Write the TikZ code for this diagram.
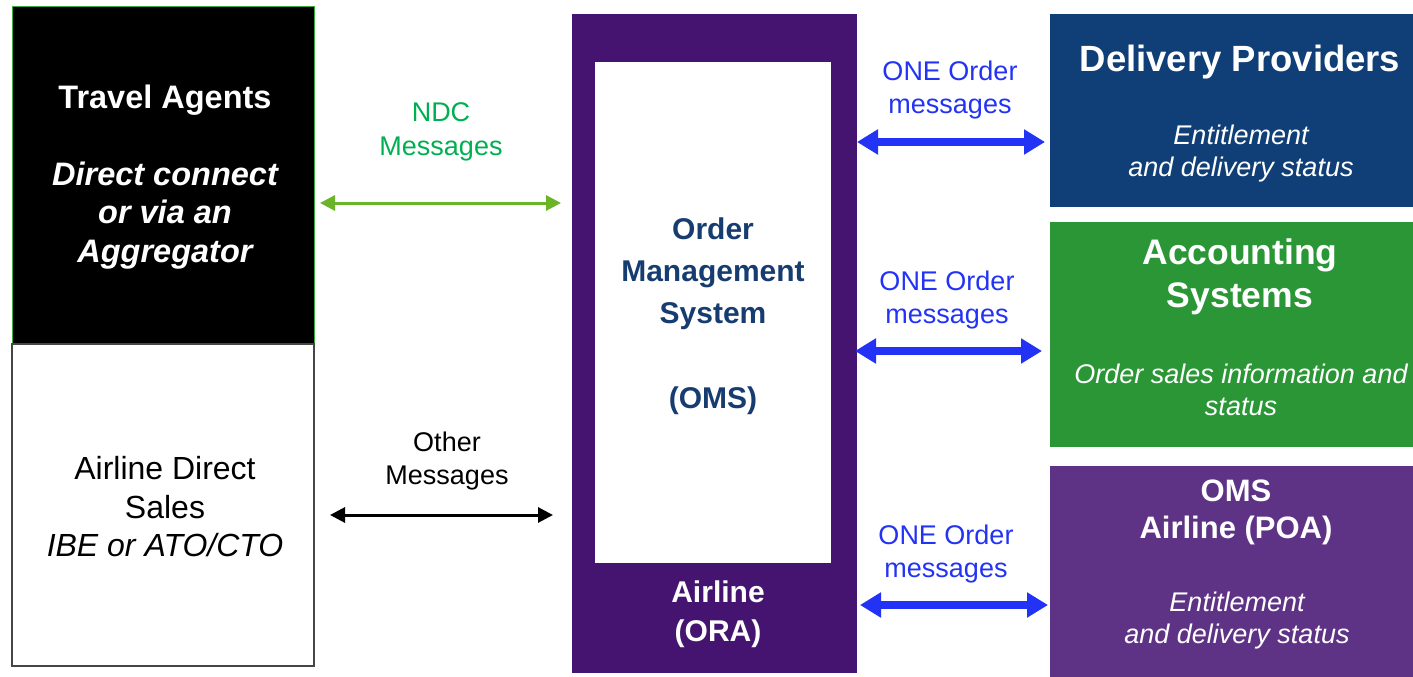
\documentclass[tikz,border=0pt]{standalone}
\usepackage{fontspec}
\setmainfont{Liberation Sans}
\usetikzlibrary{arrows.meta}
\definecolor{tagreen}{RGB}{60,170,60}
\definecolor{ndctext}{RGB}{0,176,80}
\definecolor{ndcarrowc}{RGB}{106,180,40}
\definecolor{oneblue}{RGB}{35,51,245}
\definecolor{omspurple}{RGB}{68,20,112}
\definecolor{omstext}{RGB}{23,61,112}
\definecolor{dpblue}{RGB}{15,63,118}
\definecolor{accgreen}{RGB}{42,150,54}
\definecolor{poapurple}{RGB}{94,51,133}
\definecolor{adsborder}{RGB}{70,70,70}
\begin{document}
\begin{tikzpicture}[x=1pt,y=-1pt,
  box/.style={inner sep=0pt,outer sep=0pt,anchor=north west},
  txt/.style={inner sep=0pt,outer sep=0pt,align=center,anchor=center},
  onearrow/.style={draw=oneblue,line width=8pt,{Triangle[width=24pt,length=21pt]}-{Triangle[width=24pt,length=21pt]}},
  ndcarrow/.style={draw=ndcarrowc,line width=3pt,{Triangle[width=15pt,length=15pt]}-{Triangle[width=15pt,length=15pt]}},
  othrarrow/.style={draw=black,line width=3pt,{Triangle[width=15pt,length=15pt]}-{Triangle[width=15pt,length=15pt]}},
  reg/.style={font=\fontsize{27}{33.5}\selectfont}
]
\useasboundingbox (0,0) rectangle (1413,677);
\fill[white] (0,0) rectangle (1413,677);

% left boxes
\node[box,fill=black,draw=tagreen,line width=1pt,minimum width=302pt,minimum height=337pt] (ta) at (12,7) {};
\node[box,fill=white,draw=adsborder,line width=1.2pt,minimum width=302pt,minimum height=322pt] (ads) at (12,344) {};

% OMS
\node[box,fill=omspurple,minimum width=285pt,minimum height=659pt] (oms) at (572,14) {};
\node[box,fill=white,minimum width=236pt,minimum height=501pt] (omsin) at (595,62) {};

% right boxes
\node[box,fill=dpblue,minimum width=363pt,minimum height=193pt] (dp) at (1050,14) {};
\node[box,fill=accgreen,minimum width=363pt,minimum height=225pt] (acc) at (1050,222) {};
\node[box,fill=poapurple,minimum width=363pt,minimum height=211pt] (poa) at (1050,466) {};

% texts left
\node[txt,text=white,font=\fontsize{32.5}{38.5}\selectfont\bfseries] (talbl) at (165,177)
  {Travel Agents\\[38.5pt]{\itshape Direct connect}\\{\itshape or via an}\\{\itshape Aggregator}};
\node[txt,text=black,font=\fontsize{32}{38.5}\selectfont] (adslbl) at (165,507)
  {Airline Direct\\Sales\\{\itshape IBE or ATO/CTO}};

% message labels
\node[txt,reg,text=ndctext] (ndclbl) at (441,132) {NDC\\Messages};
\node[txt,reg,text=black] (othlbl) at (447,461) {Other\\Messages};
\node[txt,reg,text=oneblue] (one1) at (950,90) {ONE Order\\messages};
\node[txt,reg,text=oneblue] (one2) at (947,300) {ONE Order\\messages};
\node[txt,reg,text=oneblue] (one3) at (946,554) {ONE Order\\messages};

% OMS texts
\node[txt,text=omstext,font=\fontsize{30}{42.3}\selectfont\bfseries] (omslbl) at (713,316)
  {Order\\Management\\System\\[42.3pt](OMS)};
\node[txt,text=white,font=\fontsize{30}{39}\selectfont\bfseries] (oralbl) at (718,614)
  {Airline\\(ORA)};

% right texts
\node[txt,text=white,font=\fontsize{36.5}{43}\selectfont\bfseries] (dptitle) at (1240,62) {Delivery Providers};
\node[txt,text=white,font=\fontsize{27}{32}\selectfont\itshape] (dpsub) at (1241,154) {Entitlement\\and delivery status};
\node[txt,text=white,font=\fontsize{35.5}{43}\selectfont\bfseries] (acctitle) at (1240,277) {Accounting\\Systems};
\node[txt,text=white,font=\fontsize{27}{32}\selectfont\itshape] (accsub) at (1241,390) {Order sales information and\\status};
\node[txt,text=white,font=\fontsize{31}{37}\selectfont\bfseries] (poatitle) at (1236,512) {OMS\\Airline (POA)};
\node[txt,text=white,font=\fontsize{27}{32}\selectfont\itshape] (poasub) at (1237,621) {Entitlement\\and delivery status};

% connectors
\draw[ndcarrow,shorten <=6pt,shorten >=11pt] (ta.east |- 0,203) -- (oms.west |- 0,203);
\draw[othrarrow,shorten <=16pt,shorten >=19pt] (ads.east |- 0,515) -- (oms.west |- 0,515);
\draw[onearrow,shorten >=5pt] (oms.east |- 0,142) -- (dp.west |- 0,142);
\draw[onearrow,shorten <=-2pt,shorten >=8pt] (oms.east |- 0,351) -- (acc.west |- 0,351);
\draw[onearrow,shorten <=3pt,shorten >=2pt] (oms.east |- 0,605) -- (poa.west |- 0,605);
\end{tikzpicture}
\end{document}
